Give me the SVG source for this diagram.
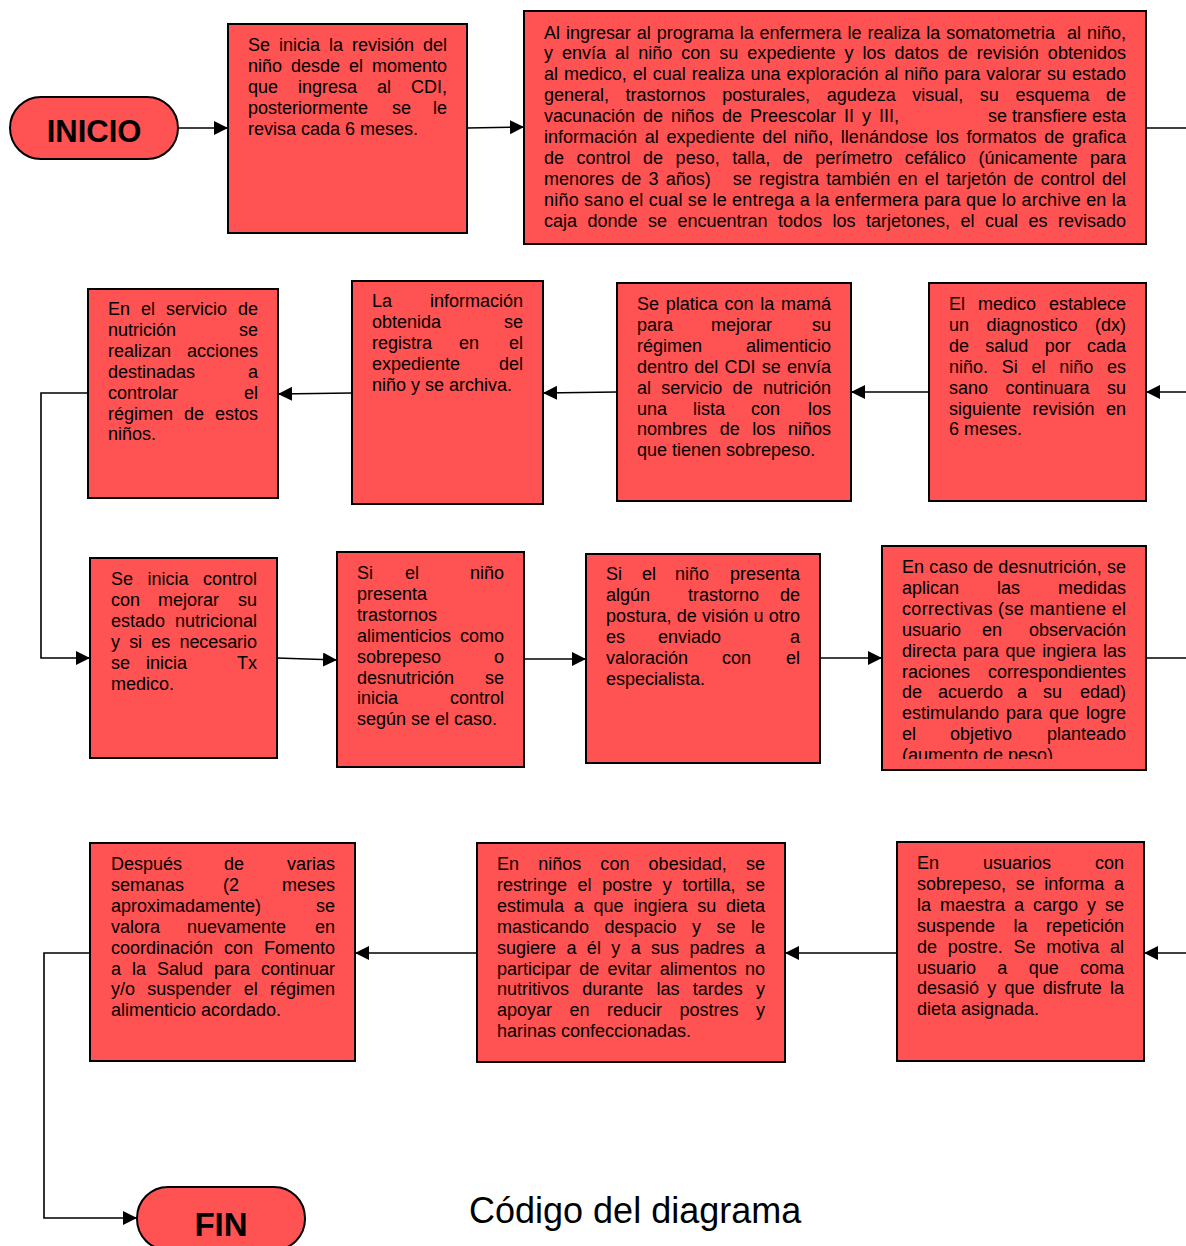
<svg xmlns="http://www.w3.org/2000/svg" width="1186" height="1246" viewBox="0 0 1186 1246">
<style>
.box{fill:#FF5252;stroke:#000;stroke-width:2}
.t{font-family:"Liberation Sans",Arial,sans-serif;font-size:18px;fill:#000}
.e{text-anchor:end}
.term{font-family:"Liberation Sans",Arial,sans-serif;font-weight:bold;fill:#000;text-anchor:middle}
.c{fill:none;stroke:#000;stroke-width:1.6}
</style>
<defs>
<marker id="ah" markerUnits="userSpaceOnUse" markerWidth="14" markerHeight="14" refX="14" refY="7" orient="auto">
<path d="M0,0 L14,7 L0,14 Z" fill="#000"/>
</marker>
<clipPath id="clipB"><rect x="524" y="11" width="622" height="222"/></clipPath>
<clipPath id="clipI"><rect x="882" y="546" width="264" height="213"/></clipPath>
</defs>

<g id="connectors">
<path class="c" d="M178,128 L228,128" marker-end="url(#ah)"/>
<path class="c" d="M467,128 L524,127" marker-end="url(#ah)"/>
<path class="c" d="M1146,128 L1186,128"/>
<path class="c" d="M1186,392 L1146,392" marker-end="url(#ah)"/>
<path class="c" d="M929,392 L851,392" marker-end="url(#ah)"/>
<path class="c" d="M617,392 L543,393" marker-end="url(#ah)"/>
<path class="c" d="M352,393 L278,394" marker-end="url(#ah)"/>
<path class="c" d="M88,393 L41,393 L41,658 L90,658" marker-end="url(#ah)"/>
<path class="c" d="M277,658 L337,660" marker-end="url(#ah)"/>
<path class="c" d="M524,659 L586,659" marker-end="url(#ah)"/>
<path class="c" d="M820,658 L882,658" marker-end="url(#ah)"/>
<path class="c" d="M1146,658 L1186,658"/>
<path class="c" d="M1186,953 L1144,953" marker-end="url(#ah)"/>
<path class="c" d="M897,953 L785,953" marker-end="url(#ah)"/>
<path class="c" d="M477,953 L355,953" marker-end="url(#ah)"/>
<path class="c" d="M90,953 L44,953 L44,1218 L137,1218" marker-end="url(#ah)"/>
</g>

<g id="inicio">
<rect class="box" x="10" y="97" width="168" height="62" rx="31" ry="31"/>
<text class="term" x="94" y="142" font-size="31">INICIO</text>
</g>

<g id="n1">
<rect class="box" x="228" y="24" width="239" height="209"/>
<text class="t" x="248" y="51" textLength="199" lengthAdjust="spacing" style="word-spacing:4px">Se inicia la revisión del</text>
<text class="t" x="248" y="71.9" textLength="199" lengthAdjust="spacing" style="word-spacing:4px">niño desde el momento</text>
<text class="t" x="248" y="92.8">que</text><text class="t" x="298" y="92.8">ingresa</text><text class="t" x="377" y="92.8">al</text><text class="t e" x="447" y="92.8">CDI,</text>
<text class="t" x="248" y="113.7">posteriormente</text><text class="t" x="392" y="113.7">se</text><text class="t e" x="447" y="113.7">le</text>
<text class="t" x="248" y="134.6">revisa cada 6 meses.</text>
</g>

<g id="n2">
<rect class="box" x="524" y="11" width="622" height="233"/>
<g clip-path="url(#clipB)">
<text class="t" x="544" y="38.5" textLength="582" lengthAdjust="spacing" style="word-spacing:1px" xml:space="preserve">Al ingresar al programa la enfermera le realiza la somatometria  al niño,</text>
<text class="t" x="544" y="59.4" textLength="582" lengthAdjust="spacing" style="word-spacing:4px">y envía al niño con su expediente y los datos de revisión obtenidos</text>
<text class="t" x="544" y="80.3" textLength="582" lengthAdjust="spacing" style="word-spacing:1px">al medico, el cual realiza una exploración al niño para valorar su estado</text>
<text class="t" x="544" y="101.2" textLength="582" lengthAdjust="spacing" style="word-spacing:11.6px">general, trastornos posturales, agudeza visual, su esquema de</text>
<text class="t" x="544" y="122.1" textLength="355" lengthAdjust="spacing" style="word-spacing:3px">vacunación de niños de Preescolar II y III,</text><text class="t e" x="1126" y="122.1">se transfiere esta</text>
<text class="t" x="544" y="143" textLength="582" lengthAdjust="spacing" style="word-spacing:2.7px">información al expediente del niño, llenándose los formatos de grafica</text>
<text class="t" x="544" y="163.9" textLength="582" lengthAdjust="spacing" style="word-spacing:7.5px">de control de peso, talla, de perímetro cefálico (únicamente para</text>
<text class="t" x="544" y="184.8" textLength="582" lengthAdjust="spacing" style="word-spacing:2.3px" xml:space="preserve">menores de 3 años)   se registra también en el tarjetón de control del</text>
<text class="t" x="544" y="205.7" textLength="582" lengthAdjust="spacing">niño sano el cual se le entrega a la enfermera para que lo archive en la</text>
<text class="t" x="544" y="226.6" textLength="582" lengthAdjust="spacing" style="word-spacing:5.5px">caja donde se encuentran todos los tarjetones, el cual es revisado</text>
</g>
</g>

<g id="n3">
<rect class="box" x="929" y="283" width="217" height="218"/>
<text class="t" x="949" y="310" textLength="177" lengthAdjust="spacing" style="word-spacing:8px">El medico establece</text>
<text class="t" x="949" y="330.9" textLength="177" lengthAdjust="spacing" style="word-spacing:12.5px">un diagnostico (dx)</text>
<text class="t" x="949" y="351.8" textLength="177" lengthAdjust="spacing" style="word-spacing:11.3px">de salud por cada</text>
<text class="t" x="949" y="372.7" textLength="177" lengthAdjust="spacing" style="word-spacing:8.7px">niño. Si el niño es</text>
<text class="t" x="949" y="393.6" textLength="177" lengthAdjust="spacing" style="word-spacing:12.5px">sano continuara su</text>
<text class="t" x="949" y="414.5" textLength="177" lengthAdjust="spacing" style="word-spacing:6.5px">siguiente revisión en</text>
<text class="t" x="949" y="435.4">6 meses.</text>
</g>

<g id="n4">
<rect class="box" x="617" y="283" width="234" height="218"/>
<text class="t" x="637" y="310" textLength="194" lengthAdjust="spacing" style="word-spacing:1.7px">Se platica con la mamá</text>
<text class="t" x="637" y="330.9">para</text><text class="t" x="711" y="330.9">mejorar</text><text class="t e" x="831" y="330.9">su</text>
<text class="t" x="637" y="351.8">régimen</text><text class="t e" x="831" y="351.8">alimenticio</text>
<text class="t" x="637" y="372.7" textLength="194" lengthAdjust="spacing" style="word-spacing:1.2px">dentro del CDI se envía</text>
<text class="t" x="637" y="393.6" textLength="194" lengthAdjust="spacing" style="word-spacing:5.3px">al servicio de nutrición</text>
<text class="t" x="637" y="414.5">una</text><text class="t" x="693" y="414.5">lista</text><text class="t" x="751" y="414.5">con</text><text class="t e" x="831" y="414.5">los</text>
<text class="t" x="637" y="435.4" textLength="194" lengthAdjust="spacing" style="word-spacing:7.7px">nombres de los niños</text>
<text class="t" x="637" y="456.3">que tienen sobrepeso.</text>
</g>

<g id="n5">
<rect class="box" x="352" y="281" width="191" height="223"/>
<text class="t" x="372" y="307">La</text><text class="t e" x="523" y="307">información</text>
<text class="t" x="372" y="327.9">obtenida</text><text class="t e" x="523" y="327.9">se</text>
<text class="t" x="372" y="348.8">registra</text><text class="t" x="459" y="348.8">en</text><text class="t e" x="523" y="348.8">el</text>
<text class="t" x="372" y="369.7">expediente</text><text class="t e" x="523" y="369.7">del</text>
<text class="t" x="372" y="390.6">niño y se archiva.</text>
</g>

<g id="n6">
<rect class="box" x="88" y="289" width="190" height="209"/>
<text class="t" x="108" y="315" textLength="150" lengthAdjust="spacing" style="word-spacing:6px">En el servicio de</text>
<text class="t" x="108" y="335.9">nutrición</text><text class="t e" x="258" y="335.9">se</text>
<text class="t" x="108" y="356.8">realizan</text><text class="t e" x="258" y="356.8">acciones</text>
<text class="t" x="108" y="377.7">destinadas</text><text class="t e" x="258" y="377.7">a</text>
<text class="t" x="108" y="398.6">controlar</text><text class="t e" x="258" y="398.6">el</text>
<text class="t" x="108" y="419.5" textLength="150" lengthAdjust="spacing" style="word-spacing:6px">régimen de estos</text>
<text class="t" x="108" y="440.4">niños.</text>
</g>

<g id="n7">
<rect class="box" x="90" y="558" width="187" height="200"/>
<text class="t" x="111" y="585" textLength="146" lengthAdjust="spacing" style="word-spacing:9.5px">Se inicia control</text>
<text class="t" x="111" y="605.9">con</text><text class="t" x="158" y="605.9">mejorar</text><text class="t e" x="257" y="605.9">su</text>
<text class="t" x="111" y="626.8">estado</text><text class="t e" x="257" y="626.8">nutricional</text>
<text class="t" x="111" y="647.7" textLength="146" lengthAdjust="spacing" style="word-spacing:4.3px">y si es necesario</text>
<text class="t" x="111" y="668.6">se</text><text class="t" x="146" y="668.6">inicia</text><text class="t e" x="257" y="668.6">Tx</text>
<text class="t" x="111" y="689.5">medico.</text>
</g>

<g id="n8">
<rect class="box" x="337" y="552" width="187" height="215"/>
<text class="t" x="357" y="579">Si</text><text class="t" x="405" y="579">el</text><text class="t e" x="504" y="579">niño</text>
<text class="t" x="357" y="599.9">presenta</text>
<text class="t" x="357" y="620.8">trastornos</text>
<text class="t" x="357" y="641.7">alimenticios</text><text class="t e" x="504" y="641.7">como</text>
<text class="t" x="357" y="662.6">sobrepeso</text><text class="t e" x="504" y="662.6">o</text>
<text class="t" x="357" y="683.5">desnutrición</text><text class="t e" x="504" y="683.5">se</text>
<text class="t" x="357" y="704.4">inicia</text><text class="t e" x="504" y="704.4">control</text>
<text class="t" x="357" y="725.3">según se el caso.</text>
</g>

<g id="n9">
<rect class="box" x="586" y="554" width="234" height="209"/>
<text class="t" x="606" y="580">Si</text><text class="t" x="642" y="580">el</text><text class="t" x="675" y="580">niño</text><text class="t e" x="800" y="580">presenta</text>
<text class="t" x="606" y="600.9">algún</text><text class="t" x="688" y="600.9">trastorno</text><text class="t e" x="800" y="600.9">de</text>
<text class="t" x="606" y="621.8" textLength="194" lengthAdjust="spacing">postura, de visión u otro</text>
<text class="t" x="606" y="642.7">es</text><text class="t" x="658" y="642.7">enviado</text><text class="t e" x="800" y="642.7">a</text>
<text class="t" x="606" y="663.6">valoración</text><text class="t" x="722" y="663.6">con</text><text class="t e" x="800" y="663.6">el</text>
<text class="t" x="606" y="684.5">especialista.</text>
</g>

<g id="n10">
<rect class="box" x="882" y="546" width="264" height="224"/>
<g clip-path="url(#clipI)">
<text class="t" x="902" y="573" textLength="224" lengthAdjust="spacing">En caso de desnutrición, se</text>
<text class="t" x="902" y="593.9">aplican</text><text class="t" x="997" y="593.9">las</text><text class="t e" x="1126" y="593.9">medidas</text>
<text class="t" x="902" y="614.8" textLength="224" lengthAdjust="spacing">correctivas (se mantiene el</text>
<text class="t" x="902" y="635.7">usuario</text><text class="t" x="982" y="635.7">en</text><text class="t e" x="1126" y="635.7">observación</text>
<text class="t" x="902" y="656.6" textLength="224" lengthAdjust="spacing" style="word-spacing:1.7px">directa para que ingiera las</text>
<text class="t" x="902" y="677.5">raciones</text><text class="t e" x="1126" y="677.5">correspondientes</text>
<text class="t" x="902" y="698.4">de</text><text class="t" x="938" y="698.4">acuerdo</text><text class="t" x="1017" y="698.4">a</text><text class="t" x="1043" y="698.4">su</text><text class="t e" x="1126" y="698.4">edad)</text>
<text class="t" x="902" y="719.3" textLength="224" lengthAdjust="spacing" style="word-spacing:2px">estimulando para que logre</text>
<text class="t" x="902" y="740.2">el</text><text class="t" x="950" y="740.2">objetivo</text><text class="t e" x="1126" y="740.2">planteado</text>
<text class="t" x="902" y="761.1">(aumento de peso).</text>
</g>
</g>

<g id="n11">
<rect class="box" x="897" y="842" width="247" height="219"/>
<text class="t" x="917" y="869" textLength="207" lengthAdjust="spacing" style="word-spacing:39px">En usuarios con</text>
<text class="t" x="917" y="889.9" textLength="207" lengthAdjust="spacing" style="word-spacing:4.7px">sobrepeso, se informa a</text>
<text class="t" x="917" y="910.8" textLength="207" lengthAdjust="spacing" style="word-spacing:4px">la maestra a cargo y se</text>
<text class="t" x="917" y="931.7" textLength="207" lengthAdjust="spacing" style="word-spacing:13.5px">suspende la repetición</text>
<text class="t" x="917" y="952.6" textLength="207" lengthAdjust="spacing" style="word-spacing:5.7px">de postre. Se motiva al</text>
<text class="t" x="917" y="973.5" textLength="207" lengthAdjust="spacing" style="word-spacing:16.3px">usuario a que coma</text>
<text class="t" x="917" y="994.4" textLength="207" lengthAdjust="spacing" style="word-spacing:3.2px">desasió y que disfrute la</text>
<text class="t" x="917" y="1015.3">dieta asignada.</text>
</g>

<g id="n12">
<rect class="box" x="477" y="843" width="308" height="219"/>
<text class="t" x="497" y="870" textLength="268" lengthAdjust="spacing" style="word-spacing:14px">En niños con obesidad, se</text>
<text class="t" x="497" y="890.9" textLength="268" lengthAdjust="spacing" style="word-spacing:5.6px">restringe el postre y tortilla, se</text>
<text class="t" x="497" y="911.8" textLength="268" lengthAdjust="spacing" style="word-spacing:4.8px">estimula a que ingiera su dieta</text>
<text class="t" x="497" y="932.7" textLength="268" lengthAdjust="spacing" style="word-spacing:10.5px">masticando despacio y se le</text>
<text class="t" x="497" y="953.6" textLength="268" lengthAdjust="spacing" style="word-spacing:5.4px">sugiere a él y a sus padres a</text>
<text class="t" x="497" y="974.5" textLength="268" lengthAdjust="spacing" style="word-spacing:3.2px">participar de evitar alimentos no</text>
<text class="t" x="497" y="995.4" textLength="268" lengthAdjust="spacing" style="word-spacing:8.2px">nutritivos durante las tardes y</text>
<text class="t" x="497" y="1016.3" textLength="268" lengthAdjust="spacing" style="word-spacing:12.5px">apoyar en reducir postres y</text>
<text class="t" x="497" y="1037.2">harinas confeccionadas.</text>
</g>

<g id="n13">
<rect class="box" x="90" y="843" width="265" height="218"/>
<text class="t" x="111" y="870">Después</text><text class="t" x="224" y="870">de</text><text class="t e" x="335" y="870">varias</text>
<text class="t" x="111" y="890.9">semanas</text><text class="t" x="223" y="890.9">(2</text><text class="t e" x="335" y="890.9">meses</text>
<text class="t" x="111" y="911.8">aproximadamente)</text><text class="t e" x="335" y="911.8">se</text>
<text class="t" x="111" y="932.7">valora</text><text class="t" x="187" y="932.7">nuevamente</text><text class="t e" x="335" y="932.7">en</text>
<text class="t" x="111" y="953.6" textLength="224" lengthAdjust="spacing" style="word-spacing:6px">coordinación con Fomento</text>
<text class="t" x="111" y="974.5" textLength="224" lengthAdjust="spacing" style="word-spacing:6px">a la Salud para continuar</text>
<text class="t" x="111" y="995.4" textLength="224" lengthAdjust="spacing" style="word-spacing:7.3px">y/o suspender el régimen</text>
<text class="t" x="111" y="1016.3">alimenticio acordado.</text>
</g>

<g id="fin">
<rect class="box" x="137" y="1187" width="168" height="63" rx="31" ry="31"/>
<text class="term" x="221" y="1236" font-size="33">FIN</text>
</g>

<g id="caption">
<text x="469" y="1223" style="font-family:'Liberation Sans',Arial,sans-serif;font-size:36px;fill:#000">Código del diagrama</text>
</g>
</svg>
